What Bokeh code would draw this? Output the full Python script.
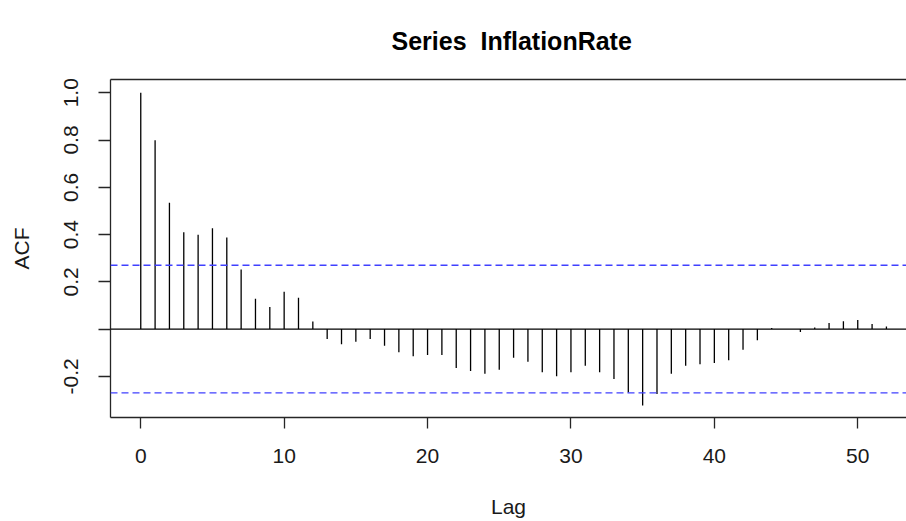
from bokeh.plotting import figure
from bokeh.models import FixedTicker, LinearAxis, Range1d, Span, Title
from bokeh.embed import file_html
from bokeh.resources import INLINE

# ---- data ----
lags = list(range(0, 53))
acf = [1.000, 0.799, 0.535, 0.410, 0.399, 0.427, 0.388, 0.252, 0.128, 0.094,
       0.158, 0.133, 0.032, -0.042, -0.064, -0.053, -0.042, -0.070, -0.098, -0.115,
       -0.110, -0.110, -0.165, -0.177, -0.189, -0.172, -0.121, -0.138, -0.183, -0.200,
       -0.183, -0.155, -0.183, -0.211, -0.268, -0.323, -0.275, -0.189, -0.155, -0.149,
       -0.143, -0.132, -0.087, -0.047, 0.005, 0.000, -0.012, 0.007, 0.026, 0.033,
       0.039, 0.022, 0.011]
conf_limit = 0.27
x_ticks = [0, 10, 20, 30, 40, 50]
y_ticks = [-0.2, 0.0, 0.2, 0.4, 0.6, 0.8, 1.0]
y_tick_labels = {-0.2: "-0.2", 0.0: "", 0.2: "0.2", 0.4: "0.4", 0.6: "0.6", 0.8: "0.8", 1.0: "1.0"}
title_text = "Series \u00a0InflationRate"
x_label = "Lag"
y_label = "ACF"

FONT = "Liberation Sans"
LINE = "#262626"

p = figure(width=906, height=521, output_backend="svg", toolbar_location=None,
           x_range=Range1d(-2.11, 53.40), y_range=Range1d(-0.374, 1.056),
           min_border_left=110, min_border_right=0, min_border_top=79, min_border_bottom=104)
p.outline_line_color = None
p.grid.visible = False
p.background_fill_color = "white"
p.border_fill_color = "white"
p.title.text = ""
p.title.standoff = 0

# spikes
p.segment(x0=lags, y0=[0] * len(lags), x1=lags, y1=acf, line_color="black", line_width=1.3)
# zero line and confidence limits
p.add_layout(Span(location=0, dimension="width", line_color="black", line_width=1.2))
for c in (conf_limit, -conf_limit):
    p.add_layout(Span(location=c, dimension="width", line_color="#4040ff",
                      line_width=1.4, line_dash="7 4"))

# bottom axis
xa = p.xaxis[0]
xa.ticker = FixedTicker(ticks=x_ticks)
xa.minor_tick_line_color = None
xa.major_tick_out = 11
xa.major_tick_in = 0
xa.axis_line_color = LINE
xa.axis_line_width = 1.3
xa.major_tick_line_color = LINE
xa.major_tick_line_width = 1.3
xa.major_label_text_font = FONT
xa.major_label_text_font_size = "21px"
xa.major_label_text_color = "#1a1a1a"
xa.major_label_standoff = 20
xa.axis_label = x_label
xa.axis_label_text_font = FONT
xa.axis_label_text_font_size = "21px"
xa.axis_label_text_font_style = "normal"
xa.axis_label_text_color = "#1a1a1a"
xa.axis_label_standoff = 29

# left axis
ya = p.yaxis[0]
ya.ticker = FixedTicker(ticks=y_ticks)
ya.major_label_overrides = y_tick_labels
ya.minor_tick_line_color = None
ya.major_tick_out = 12
ya.major_tick_in = 0
ya.axis_line_color = LINE
ya.axis_line_width = 1.3
ya.major_tick_line_color = LINE
ya.major_tick_line_width = 1.3
ya.major_label_orientation = "vertical"
ya.major_label_text_font = FONT
ya.major_label_text_font_size = "21px"
ya.major_label_text_color = "#1a1a1a"
ya.major_label_standoff = 20
ya.axis_label = y_label
ya.axis_label_text_font = FONT
ya.axis_label_text_font_size = "21px"
ya.axis_label_text_font_style = "normal"
ya.axis_label_text_color = "#1a1a1a"
ya.axis_label_standoff = 29

# top edge of the box
top = LinearAxis(ticker=FixedTicker(ticks=[]), major_tick_out=0, major_tick_in=0,
                 major_label_text_font_size="0px", axis_line_color=LINE, axis_line_width=1.3,
                 minor_tick_line_color=None)
p.add_layout(top, "above")

# title, pushed away from the box by its standoff
main_title = Title(text=title_text, align="left", offset=281, standoff=46,
                   vertical_align="top",
                   text_font=FONT, text_font_size="25px", text_font_style="bold",
                   text_color="black")
p.add_layout(main_title, "above")

open("out.html", "w").write(file_html(p, INLINE))
